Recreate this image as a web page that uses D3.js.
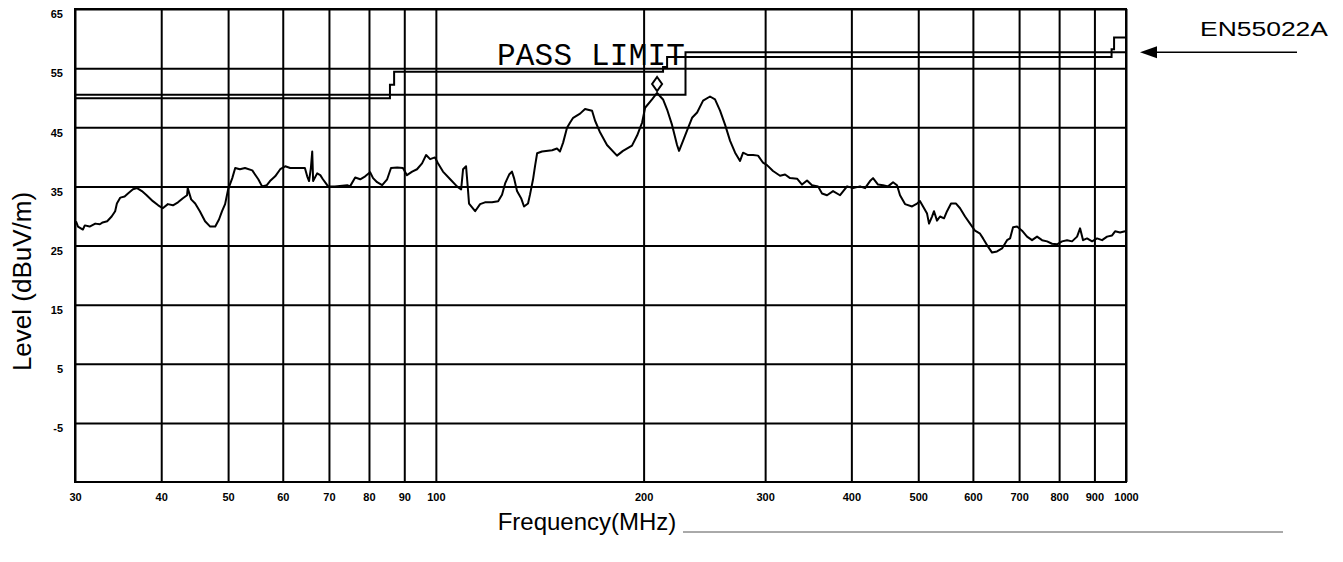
<!DOCTYPE html>
<html>
<head>
<meta charset="utf-8">
<script src="https://cdn.jsdelivr.net/npm/d3@7"></script>
<style>
  html, body { margin: 0; padding: 0; background: #fff; }
  svg { display: block; }
</style>
</head>
<body>
<svg id="chart" width="1343" height="562"></svg>
<script>
// Radiated emission scan, 30 MHz - 1 GHz, log frequency axis
const freqTicks = [30, 40, 50, 60, 70, 80, 90, 100, 200, 300, 400, 500, 600, 700, 800, 900, 1000];
const freqTickLabels = ["30", "40", "50", "60", "70", "80", "90", "100", "200", "300", "400", "500", "600", "700", "800", "900", "1000"];
const levelTicks = [65, 55, 45, 35, 25, 15, 5, -5];
const levelTickLabels = ["65", "55", "45", "35", "25", "15", "5", "-5"];

// EN55022 class A limit line
const limitFreq  = [30, 230, 230, 1000];
const limitLevel = [50.5, 50.5, 57.7, 57.7];

// Pass limit line
const passFreq  = [30, 85.8, 85.8, 87.0, 87.0, 213.4, 213.4, 216.3, 216.3, 953, 953, 961, 961, 1000];
const passLevel = [49.9, 49.9, 52.2, 52.2, 54.4, 54.4, 55.2, 55.2, 56.9, 56.9, 58.2, 58.2, 60.2, 60.2];

// Measured level trace (MHz, dBuV/m)
const traceFreq = [
  30.1, 30.3, 30.8, 31.0, 31.5, 32.1, 32.6, 32.9, 33.4, 33.9, 34.3, 34.5, 34.9, 35.4, 35.8, 36.4, 36.9, 37.5, 38.1, 38.9,
  39.6, 40.2, 40.9, 41.6, 42.3, 43.0, 43.6, 43.7, 44.2, 44.8, 45.5, 46.3, 47.1, 47.9, 48.5, 49.0, 49.5, 50.0, 50.7, 51.2,
  52.0, 52.9, 54.2, 54.7, 55.3, 56.0, 56.9, 57.5, 58.5, 59.5, 60.5, 61.5, 62.9, 64.6, 65.1, 65.5, 65.9, 66.2, 66.4, 67.3,
  68.0, 68.6, 69.3, 69.8, 71.4, 74.4, 75.1, 76.4, 77.7, 79.0, 80.3, 81.1, 82.2, 83.6, 85.0, 86.1, 87.9, 89.6, 90.8, 92.4,
  93.9, 95.5, 96.8, 98.1, 99.7, 100.7, 102.4, 104.9, 107.3, 108.8, 109.5, 110.6, 111.3, 111.7, 114.0, 115.9, 117.8, 120.6, 123.1, 124.7,
  126.0, 127.7, 128.9, 129.8, 131.1, 132.9, 134.2, 136.0, 136.9, 138.3, 139.2, 140.2, 142.5, 147.4, 149.8, 151.3, 152.9, 154.9, 156.5, 158.1,
  161.8, 164.5, 168.4, 170.1, 173.0, 177.0, 183.0, 186.7, 192.4, 195.7, 199.0, 201.0, 205.7, 209.2, 213.4, 216.3, 219.9, 223.6, 225.1, 228.1,
  232.0, 235.1, 239.1, 243.9, 249.6, 253.8, 258.1, 262.5, 266.9, 271.4, 275.9, 278.7, 283.4, 288.2, 293.0, 297.9, 301.9, 308.0, 315.3, 320.6,
  326.0, 333.7, 339.3, 345.0, 350.8, 357.9, 362.7, 368.8, 376.3, 385.2, 394.3, 402.2, 411.7, 418.7, 425.7, 430.0, 437.2, 444.6, 452.1, 459.7,
  465.8, 470.5, 478.4, 489.8, 498.0, 503.0, 508.1, 514.9, 518.3, 523.5, 527.0, 532.3, 537.7, 544.9, 550.4, 557.8, 567.2, 574.8, 584.5, 594.3,
  604.3, 614.5, 620.7, 631.1, 639.6, 650.3, 661.3, 672.4, 679.2, 686.0, 695.2, 706.9, 718.8, 730.9, 743.2, 755.7, 768.4, 781.4, 794.5, 807.9,
  821.5, 835.3, 849.4, 857.9, 866.5, 878.2, 893.0, 908.0, 923.3, 938.8, 954.6, 964.2, 980.4, 996.9
];
const traceLevel = [
  29.1, 28.2, 27.7, 28.4, 28.2, 28.7, 28.6, 28.9, 29.1, 29.9, 30.8, 32.1, 33.1, 33.3, 33.8, 34.5, 34.7, 34.2, 33.5, 32.5,
  31.8, 31.3, 32.0, 31.8, 32.3, 33.0, 33.5, 34.7, 32.8, 32.1, 30.8, 29.1, 28.2, 28.2, 29.4, 30.8, 32.0, 34.5, 36.4, 38.1,
  37.9, 38.1, 37.7, 37.0, 36.2, 35.0, 35.2, 35.9, 36.7, 37.9, 38.4, 38.1, 38.1, 38.1, 36.7, 35.9, 38.1, 40.9, 35.9, 37.2,
  36.9, 36.2, 35.5, 35.0, 35.0, 35.2, 35.0, 36.5, 36.2, 36.7, 37.4, 36.4, 35.7, 35.2, 36.2, 38.1, 38.2, 38.1, 36.9, 37.5,
  37.9, 38.9, 40.3, 39.6, 39.9, 38.9, 37.5, 36.2, 35.0, 34.5, 37.9, 38.4, 34.5, 32.1, 30.8, 32.0, 32.3, 32.3, 32.5, 33.6,
  35.5, 37.0, 37.5, 36.4, 34.2, 33.0, 31.6, 32.1, 33.6, 36.2, 38.4, 40.6, 40.9, 41.1, 41.4, 40.9, 42.4, 44.9, 45.8, 46.6,
  47.3, 48.1, 47.8, 46.1, 44.1, 42.0, 40.2, 41.0, 41.9, 43.6, 45.8, 48.3, 49.7, 50.8, 49.7, 48.0, 45.4, 42.0, 41.0, 42.7,
  44.9, 46.6, 47.5, 49.5, 50.2, 49.7, 47.8, 45.4, 42.7, 40.7, 39.3, 40.7, 40.3, 40.3, 40.2, 39.0, 38.6, 37.6, 36.8, 37.0,
  36.4, 36.3, 35.3, 36.0, 35.2, 35.0, 33.8, 33.5, 34.2, 33.5, 35.0, 34.7, 35.0, 34.7, 35.9, 36.4, 35.3, 35.2, 35.0, 35.7,
  35.2, 33.5, 32.0, 31.6, 32.1, 32.5, 31.6, 30.4, 28.7, 29.9, 30.8, 29.2, 29.9, 29.6, 30.8, 32.1, 32.1, 31.3, 29.9, 28.7,
  27.5, 27.0, 26.2, 24.8, 23.8, 24.0, 24.5, 25.9, 26.2, 28.1, 28.2, 27.5, 26.5, 25.9, 26.5, 25.9, 25.7, 25.3, 25.2, 25.7,
  25.9, 25.7, 26.5, 27.9, 25.9, 26.2, 25.7, 26.2, 25.9, 26.5, 26.7, 27.4, 27.2, 27.4
];

// Peak marker
const peakFreq = 209.2;
const peakLevel = 50.8;

const svg = d3.select("#chart");
const plotLeft = 75, plotRight = 1126, plotTop = 9, plotBottom = 482;

const x = d3.scaleLog().domain([30, 1000]).range([plotLeft, plotRight]);
const y = d3.scaleLinear().domain([-15, 65]).range([plotBottom, plotTop]);

// vertical grid + frequency labels
const xAxis = d3.axisBottom(x)
  .tickValues(freqTicks)
  .tickFormat((d, i) => freqTickLabels[i])
  .tickSize(-(plotBottom - plotTop))
  .tickPadding(11);
const gx = svg.append("g").attr("transform", `translate(0,${plotBottom})`).call(xAxis);
gx.select(".domain").remove();
gx.selectAll(".tick line").attr("stroke", "#000").attr("stroke-width", 2);
gx.selectAll(".tick text")
  .attr("fill", "#000")
  .style("font-family", "'Liberation Sans', Arial, sans-serif")
  .style("font-weight", "bold")
  .style("font-size", "11px");

// horizontal grid + level labels
const yAxis = d3.axisLeft(y)
  .tickValues(levelTicks)
  .tickFormat((d, i) => levelTickLabels[i])
  .tickSize(-(plotRight - plotLeft))
  .tickPadding(12);
const gy = svg.append("g").attr("transform", `translate(${plotLeft},0)`).call(yAxis);
gy.select(".domain").remove();
gy.selectAll(".tick line").attr("stroke", "#000").attr("stroke-width", 2);
gy.selectAll(".tick text")
  .attr("fill", "#000")
  .attr("dy", "0.8em")
  .style("font-family", "'Liberation Sans', Arial, sans-serif")
  .style("font-weight", "bold")
  .style("font-size", "11px");

// plot frame
svg.append("rect")
  .attr("x", plotLeft).attr("y", plotTop)
  .attr("width", plotRight - plotLeft).attr("height", plotBottom - plotTop)
  .attr("fill", "none").attr("stroke", "#000").attr("stroke-width", 2);

const line = d3.line().x(d => x(d[0])).y(d => y(d[1]));

// limit lines
svg.append("path")
  .datum(limitFreq.map((f, i) => [f, limitLevel[i]]))
  .attr("d", line)
  .attr("fill", "none").attr("stroke", "#000").attr("stroke-width", 2);
svg.append("path")
  .datum(passFreq.map((f, i) => [f, passLevel[i]]))
  .attr("d", line)
  .attr("fill", "none").attr("stroke", "#000").attr("stroke-width", 2);

// measured trace
svg.append("path")
  .datum(traceFreq.map((f, i) => [f, traceLevel[i]]))
  .attr("d", line)
  .attr("fill", "none").attr("stroke", "#000").attr("stroke-width", 2)
  .attr("stroke-linejoin", "round");

// peak marker (diamond just above the peak)
const px = x(peakFreq), py = y(peakLevel) - 9;
svg.append("path")
  .attr("d", `M${px},${py - 7}L${px + 5},${py}L${px},${py + 7}L${px - 5},${py}Z`)
  .attr("fill", "none").attr("stroke", "#000").attr("stroke-width", 2);

// PASS LIMIT caption resting on the 55 dB line
svg.append("text")
  .attr("x", x(122.6)).attr("y", y(55) - 3)
  .attr("textLength", 188).attr("lengthAdjust", "spacing")
  .style("font-family", "'Liberation Mono', 'DejaVu Sans Mono', monospace")
  .style("font-size", "31px")
  .attr("fill", "#000")
  .text("PASS LIMIT");

// limit name with arrow
const arrowY = y(limitLevel[limitLevel.length - 1]);
svg.append("line")
  .attr("x1", 1152).attr("y1", arrowY).attr("x2", 1297).attr("y2", arrowY)
  .attr("stroke", "#000").attr("stroke-width", 1.5);
svg.append("path")
  .attr("d", `M1140,${arrowY}L1157,${arrowY - 6}L1157,${arrowY + 6}Z`)
  .attr("fill", "#000");
svg.append("text")
  .attr("x", 1200).attr("y", 36)
  .attr("textLength", 128).attr("lengthAdjust", "spacingAndGlyphs")
  .style("font-family", "'Liberation Sans', Arial, sans-serif")
  .style("font-size", "20px")
  .attr("fill", "#000")
  .text("EN55022A");

// axis titles
svg.append("text")
  .attr("transform", `translate(31,${(plotTop + plotBottom) / 2 + 36}) rotate(-90)`)
  .attr("text-anchor", "middle")
  .style("font-family", "'Liberation Sans', Arial, sans-serif")
  .style("font-size", "26px")
  .attr("fill", "#000")
  .text("Level (dBuV/m)");

svg.append("text")
  .attr("x", 587).attr("y", 530)
  .attr("text-anchor", "middle")
  .style("font-family", "'Liberation Sans', Arial, sans-serif")
  .style("font-size", "24px")
  .attr("fill", "#000")
  .text("Frequency(MHz)");

// rule beside the frequency title
svg.append("line")
  .attr("x1", 683).attr("y1", 532).attr("x2", 1283).attr("y2", 532)
  .attr("stroke", "#555").attr("stroke-width", 1);
</script>
</body>
</html>
